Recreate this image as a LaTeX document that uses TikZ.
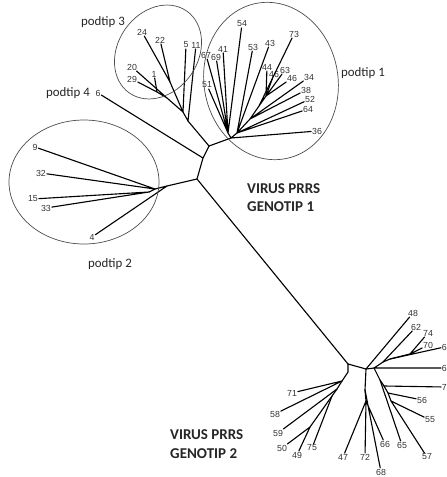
\documentclass[tikz,border=0pt]{standalone}
\usepackage{fontspec}
\setmainfont{Carlito}
\newfontfamily\leaffont{Liberation Sans}
\usepackage{tikz}
\usetikzlibrary{positioning}
\tikzset{
  br/.style={line width=0.95pt, line cap=round},
  lf/.style={inner sep=0.6pt, font=\leaffont\fontsize{7.5}{8}\selectfont, text=black!80},
  grp/.style={draw=black!70, line width=0.6pt},
  sub/.style={font=\fontsize{11}{12}\selectfont, text=black!85},
  geno/.style={anchor=base west, inner sep=0pt, font=\bfseries\fontsize{12.8}{14}\selectfont, text=black!85}}

\begin{document}
\begin{tikzpicture}[x=0.03cm, y=-0.03cm]
\useasboundingbox (0,0) rectangle (446,477);
% backbone
\coordinate (r1) at (209,146);
\coordinate (r2) at (203,158);
\coordinate (r3) at (197,179);
\coordinate (g2) at (348,364);
% podtip 1
\coordinate (p0) at (231,138);
\coordinate (q) at (228,133);
\coordinate (p1) at (237,133);
\coordinate (p2) at (250,119);
\coordinate (p3) at (259,106);
\coordinate (p4) at (266,96);
% podtip 3
\coordinate (t1) at (188,121);
\coordinate (t2) at (183,112);
\coordinate (t5) at (170,82);
\coordinate (t6) at (167,98);
\coordinate (t4) at (157,92);
% podtip 2
\coordinate (s1) at (167,186);
\coordinate (s2) at (155,189);
\coordinate (s3) at (149,192);
% genotip 2
\coordinate (b1) at (348,372);
\coordinate (b2) at (342,381);
\coordinate (b3) at (337,389);
\coordinate (b4) at (332,396);
\coordinate (b5) at (310,427);
\coordinate (c) at (366,369);
\coordinate (d) at (365,390);
\coordinate (d2) at (366,401);
\coordinate (e) at (374,368);
\coordinate (f) at (383,362);
\coordinate (g) at (390,359);
\coordinate (h) at (410,354);
\coordinate (i) at (380,380);
\coordinate (j) at (384,386);
\coordinate (k) at (388,393);
\coordinate (m) at (391,401);

\node[lf] (l54) at (242,24) {54};
\node[lf] (l41) at (223,49) {41};
\node[lf] (l69) at (216,57) {69};
\node[lf] (l67) at (206,55) {67};
\node[lf] (l51) at (207,85) {51};
\node[lf] (l53) at (253,47) {53};
\node[lf] (l43) at (270,43) {43};
\node[lf] (l73) at (294,34) {73};
\node[lf] (l44) at (267,67) {44};
\node[lf] (l46a) at (274,74) {46};
\node[lf] (l63) at (285,70) {63};
\node[lf] (l46b) at (292,78) {46};
\node[lf] (l34) at (309,77) {34};
\node[lf] (l38) at (306,90) {38};
\node[lf] (l52) at (310,99) {52};
\node[lf] (l64) at (308,109) {64};
\node[lf] (l36) at (317,131) {36};

\node[lf] (l24) at (142,32) {24};
\node[lf] (l22) at (160,40) {22};
\node[lf] (l5) at (186,45) {5};
\node[lf] (l11) at (196,45) {11};
\node[lf] (l20) at (132,67) {20};
\node[lf] (l29) at (132,79) {29};
\node[lf] (l1) at (154,74) {1};

\node[lf] (l6) at (98,93) {6};

\node[lf] (l9) at (35,147) {9};
\node[lf] (l32) at (41,173) {32};
\node[lf] (l15) at (33,199) {15};
\node[lf] (l33) at (46,208) {33};
\node[lf] (l4) at (92,237) {4};

\node[lf] (l48) at (413,313) {48};
\node[lf] (l62) at (416,327) {62};
\node[lf] (l74) at (428,333) {74};
\node[lf] (l70) at (428,345) {70};
\node[lf, anchor=west] (l6a) at (441,347) {6};
\node[lf, anchor=west] (l6b) at (441,368) {6};
\node[lf, anchor=west] (l7) at (441,387) {7};
\node[lf] (l56) at (422,400) {56};
\node[lf] (l55) at (430,420) {55};
\node[lf] (l65) at (402,445) {65};
\node[lf] (l57) at (427,457) {57};
\node[lf] (l66) at (385,444) {66};
\node[lf] (l72) at (365,457) {72};
\node[lf] (l68) at (381,472) {68};
\node[lf] (l47) at (343,457) {47};
\node[lf] (l71) at (292,393) {71};
\node[lf] (l58) at (275,414) {58};
\node[lf] (l59) at (278,433) {59};
\node[lf] (l50) at (282,448) {50};
\node[lf] (l49) at (297,455) {49};
\node[lf] (l75) at (312,448) {75};

\draw [br] (r1) -- (r2) -- (r3) -- (g2);
\draw [br] (r1) -- (p0);
\draw [br] (r1) -- (t1);
\draw [br] (r2) -- (l6);
\draw [br] (r3) -- (s1);
% podtip 1
\draw [br] (p0) -- (q) (p0) -- (p1) (p0) -- (l36);
\draw [br] (q) -- (l51) (q) -- (l67) (q) -- (l69) (q) -- (l41) (q) -- (l54);
\draw [br] (p1) -- (l53) (p1) -- (l43) (p1) -- (l64) (p1) -- (l52) (p1) -- (p2);
\draw [br] (p2) -- (l38) (p2) -- (l34) (p2) -- (p3);
\draw [br] (p3) -- (l73) (p3) -- (p4);
\draw [br] (p4) -- (l44) (p4) -- (l46a) (p4) -- (l63) (p4) -- (l46b);
% podtip 3
\draw [br] (t1) -- (l11) (t1) -- (t2);
\draw [br] (t2) -- (l5) (t2) -- (t5) (t2) -- (t6);
\draw [br] (t5) -- (l24) (t5) -- (l22);
\draw [br] (t6) -- (l20) (t6) -- (t4);
\draw [br] (t4) -- (l29) (t4) -- (l1);
% podtip 2
\draw [br] (s1) -- (l4) (s1) -- (s2);
\draw [br] (s2) -- (l9) (s2) -- (l32) (s2) -- (s3);
\draw [br] (s3) -- (l15) (s3) -- (l33);
% genotip 2
\draw [br] (g2) -- (b1) -- (b2) -- (b3) -- (b4) -- (b5);
\draw [br] (b2) -- (l71) (b2) -- (l58) (b3) -- (l59) (b4) -- (l75);
\draw [br] (b5) -- (l49) (b5) -- (l50);
\draw [br] (g2) -- (c) -- (e);
\draw [br] (c) -- (l48) (c) -- (d) -- (d2);
\draw [br] (d) -- (l68) (d2) -- (l66) (d2) -- (l72) (d2) -- (l47);
\draw [br] (e) -- (l6b) (e) -- (f) -- (g) -- (h);
\draw [br] (f) -- (l62) (g) -- (l6a) (h) -- (l74) (h) -- (l70);
\draw [br] (e) -- (i) -- (j) -- (k) -- (m);
\draw [br] (i) -- (l65) (j) -- (l7) (k) -- (l56) (m) -- (l55) (m) -- (l57);

% groups
\draw [grp, rotate around={10:(271,81)}] (271,81) ellipse [x radius=67, y radius=79];
\draw [grp, rotate around={55:(158,52)}] (158,52) ellipse [x radius=50, y radius=40];
\draw [grp] (84,182) ellipse [x radius=75, y radius=62];

\node[sub] (n1) at (363,73) {podtip 1};
\node[sub] (n2) at (110,264) {podtip 2};
\node[sub] (n3) at (103,22) {podtip 3};
\node[sub] (n4) at (68,93) {podtip 4};

\node[geno] (v1) at (247,193) {VIRUS PRRS};
\node[geno] (v1b) at (247,211) {GENOTIP 1};
\node[geno] (v2) at (170,439) {VIRUS PRRS};
\node[geno] (v2b) at (170,458) {GENOTIP 2};
\end{tikzpicture}
\end{document}
